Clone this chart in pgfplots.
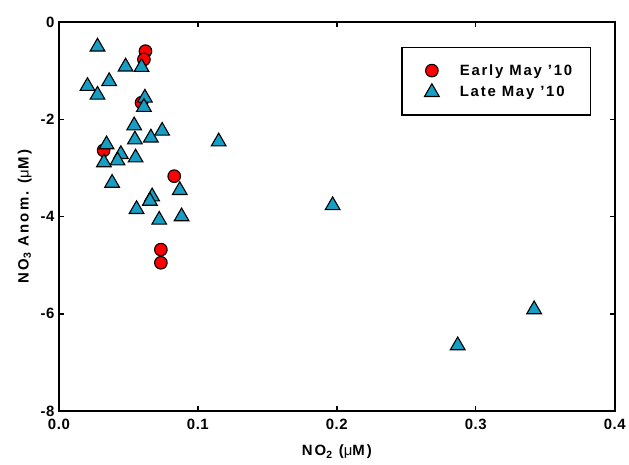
\documentclass[border=0pt]{standalone}
\usepackage{fontspec}
\setmainfont{Liberation Sans}[LetterSpace=4]
\usepackage{pgfplots}
\pgfplotsset{compat=1.18}
\definecolor{earlyred}{RGB}{255,0,0}
\definecolor{latecyan}{RGB}{22,158,196}

\begin{document}
\begin{tikzpicture}
\begin{axis}[
  at={(0,0)}, anchor=south west,
  scale only axis, width=557bp, height=390bp,
  xmin=0, xmax=0.4, ymin=-8, ymax=0,
  xtick={0,0.1,0.2,0.3,0.4}, ytick={-8,-6,-4,-2,0},
  tick align=inside, major tick length=5bp,
  axis line style={line width=1.6bp},
  every tick/.style={black, line width=1.4bp},
  /pgf/number format/assume math mode=true,
  tick label style={font=\fontsize{15}{15}\selectfont\bfseries},
  xticklabel style={yshift=-4bp, /pgf/number format/.cd, fixed, fixed zerofill, precision=1},
  yticklabel style={xshift=-1bp},
  label style={font=\fontsize{15}{15}\selectfont\bfseries\addfontfeature{LetterSpace=14}},
  xlabel={NO\textsubscript{2} ({\mdseries μ}M)},
  ylabel={NO\textsubscript{3} Anom. ({\mdseries μ}M)},
  xlabel style={yshift=-9bp},
  ylabel style={yshift=2bp},
  legend style={at={(axis description cs:0.957,0.936)}, anchor=north east,
    draw=black, line width=1.3bp, inner xsep=16bp, inner ysep=15bp,
    font=\fontsize{15}{15}\selectfont\bfseries\addfontfeature{LetterSpace=12},
    row sep=5bp},
  legend cell align=left,
  legend image code/.code={\path[draw=none,fill=none] (0bp,-6bp) rectangle (40bp,6bp);
    \draw[mark repeat=2,mark phase=2] plot coordinates {(0bp,0bp) (14bp,0bp) (28bp,0bp)};},
]
\addplot[only marks, mark=*, mark size=6.3bp, draw=black, line width=1.1bp, fill=earlyred] coordinates {
  (0.0623,-0.60) (0.0612,-0.77) (0.0595,-1.66) (0.0322,-2.64)
  (0.0830,-3.17) (0.0734,-4.68) (0.0734,-4.95)
};
\addlegendentry{Early May '10}
\addplot[only marks, mark=triangle*, mark size=8.5bp, draw=black, line width=1.1bp, fill=latecyan] coordinates {
  (0.0278,-0.51) (0.0480,-0.92) (0.0595,-0.93) (0.0206,-1.32)
  (0.0362,-1.22) (0.0278,-1.50) (0.0619,-1.56) (0.0612,-1.75)
  (0.0542,-2.13) (0.0743,-2.24) (0.0662,-2.38) (0.0547,-2.42)
  (0.0343,-2.52) (0.1150,-2.46) (0.0446,-2.72) (0.0422,-2.85)
  (0.0552,-2.79) (0.0324,-2.89) (0.0383,-3.31) (0.0870,-3.46)
  (0.0671,-3.59) (0.0655,-3.68) (0.0559,-3.85) (0.0722,-4.07)
  (0.0883,-4.00) (0.1970,-3.77) (0.2870,-6.65) (0.3420,-5.91)
};
\addlegendentry{Late May '10}
\end{axis}
\path (-59bp,-53bp) rectangle (570bp,412bp);
\end{tikzpicture}
\end{document}
